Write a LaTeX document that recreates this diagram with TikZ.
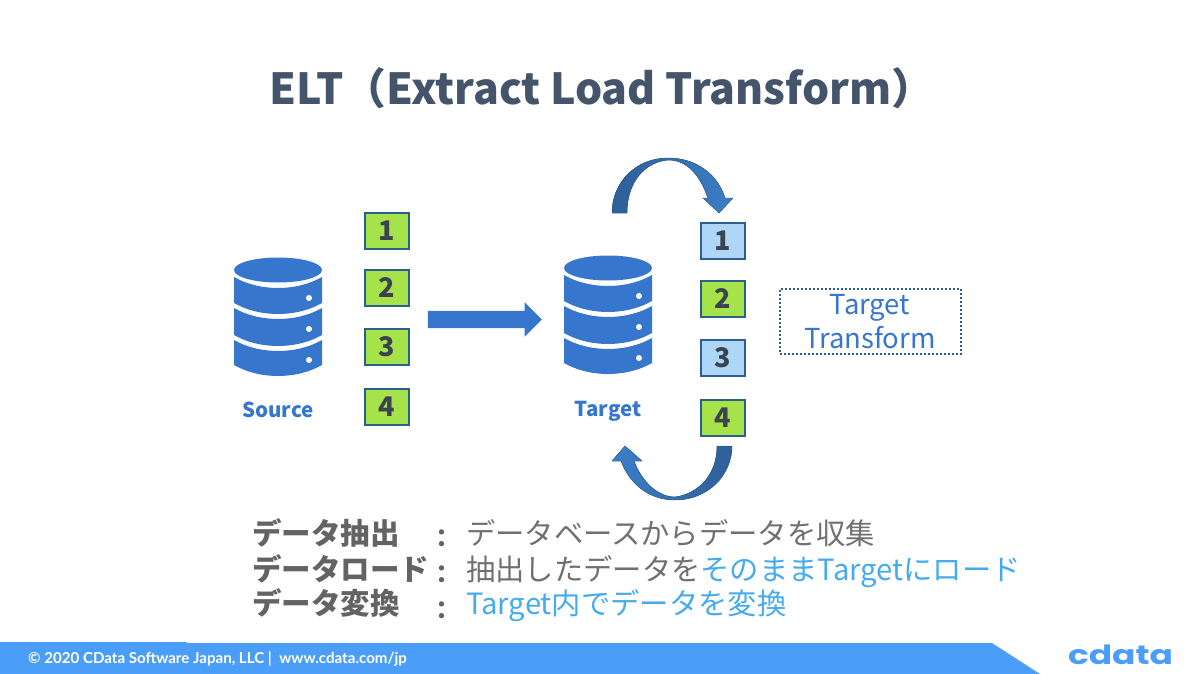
\documentclass[tikz,border=0pt]{standalone}
\usepackage{fontspec}
\setmainfont{Noto Sans CJK JP}
\newfontfamily\footfont{Lato}
\newfontfamily\logofont{Poppins}
\usetikzlibrary{positioning, shapes.arrows}
\definecolor{titlegray}{HTML}{44546A}
\definecolor{headgray}{HTML}{636363}
\definecolor{textgray}{HTML}{707070}
\definecolor{dbblue}{HTML}{3676CC}
\definecolor{boxedge}{HTML}{2B5F8E}
\definecolor{boxgreen}{HTML}{A6E34B}
\definecolor{boxblue}{HTML}{ADD6F7}
\definecolor{digitgray}{HTML}{3B4350}
\definecolor{arcdark}{HTML}{2E5F98}
\definecolor{arclight}{HTML}{3C7EC8}
\definecolor{hilite}{HTML}{45ABEC}
\definecolor{footblue}{HTML}{4B9EF8}
\tikzset{
    numbox/.style={draw=boxedge, line width=2pt, minimum width=44pt, minimum height=36pt,
        inner sep=0pt, outer sep=0pt, font=\fontsize{27}{27}\selectfont\bfseries, text=digitgray},
    loaded/.style={numbox, fill=boxgreen},
    raw/.style={numbox, fill=boxblue},
    dblabel/.style={anchor=base, inner sep=0pt, text=dbblue, font=\fontsize{20.5}{20.5}\selectfont\bfseries},
    note/.style={anchor=base west, inner sep=0pt, text=textgray, font=\fontsize{29.3}{29.3}\selectfont},
    notehead/.style={note, text=headgray, font=\fontsize{29.5}{29.5}\selectfont\bfseries},
    notecolon/.style={notehead, font=\fontsize{25}{25}\selectfont\bfseries},
    bigarrow/.style={single arrow, fill=dbblue, minimum width=34pt, minimum height=114pt,
        single arrow head extend=8.5pt, inner xsep=0pt, inner ysep=8.5pt, outer sep=0pt},
    % one band of the cylinder, top edge then bottom edge
    dbicon/.pic={
        \fill[dbblue] (0,12) ellipse [x radius=44, y radius=12.5];
        \foreach \ya/\yb in {19/45, 50/77, 82/107} {
            \fill[dbblue] (-44,\ya) .. controls (-30,\ya+8) and (-14,\ya+11) .. (0,\ya+11)
                .. controls (14,\ya+11) and (30,\ya+8) .. (44,\ya)
                -- (44,\yb) .. controls (30,\yb+8) and (14,\yb+11) .. (0,\yb+11)
                .. controls (-14,\yb+11) and (-30,\yb+8) .. (-44,\yb) -- cycle;
        }
        \foreach \yd in {40, 71, 102} \fill[white] (31,\yd) circle (3);
    },
}

\begin{document}
\begin{tikzpicture}[x=1pt, y=-1pt]
    \useasboundingbox (0,0) rectangle (1197,674);

    % heading
    \node[text=titlegray, font=\fontsize{42.8}{42.8}\selectfont\bfseries] (title) at (602,88) {ELT（Extract Load Transform）};

    % source side
    \pic at (278,258) {dbicon};
    \node[dblabel] (source) at (278,417) {Source};
    \node[loaded] at (386.5,230.5)       (s1) {1};
    \node[loaded, below=21pt of s1]      (s2) {2};
    \node[loaded, below=23pt of s2]      (s3) {3};
    \node[loaded, below=24pt of s3]      (s4) {4};

    \node[bigarrow] (flow) at (480.5,319.5) {};

    % target side
    \pic at (608,256) {dbicon};
    \node[dblabel] (target) at (608,416.5) {Target};
    \node[raw] at (722.5,241)            (t1) {1};
    \node[loaded, below=22pt of t1]      (t2) {2};
    \node[raw, below=23pt of t2]         (t3) {3};
    \node[loaded, below=24pt of t3]      (t4) {4};

    % transform loop
    \fill[draw=arcdark, line width=0.4pt, left color=arcdark, right color=arclight]
        (612,213) .. controls (612,182) and (636,158) .. (668,158)
        .. controls (697,158) and (718,175) .. (725,198) -- (733,198) -- (719,213) -- (703,198) -- (708,198)
        .. controls (700,176) and (688,160) .. (668,160)
        .. controls (645,162) and (627,182) .. (627,213) -- cycle;
    \fill[draw=arcdark, line width=0.4pt, left color=arclight, right color=arcdark]
        (732,446) .. controls (732,475) and (708,500) .. (675,500)
        .. controls (650,500) and (630,485) .. (621,461) -- (612,461) -- (625,446) -- (642,461) -- (634,461)
        .. controls (642,482) and (658,497) .. (675,497)
        .. controls (698,494) and (717,475) .. (717,446) -- cycle;

    \node[draw=boxedge, dotted, line width=2pt, minimum width=181pt, minimum height=65pt,
        inner sep=0pt, align=center, text=dbblue, font=\fontsize{27.5}{34.5}\selectfont]
        (transform) at (870,321.5) {Target\\Transform};

    % notes
    \node[notehead] (h1) at (252,544) {データ抽出};
    \node[notehead] (h2) at (252,580) {データロード};
    \node[notehead] (h3) at (252,614) {データ変換};
    \node[notecolon] (c1) at (429.5,547) {：};
    \node[notecolon] (c2) at (429.5,583) {：};
    \node[notecolon] (c3) at (429.5,619) {：};
    \node[note] (n1) at (466,544) {データベースからデータを収集};
    \node[note] (n2) at (466,580) {抽出したデータを\textcolor{hilite}{そのままTargetにロード}};
    \node[note, text=hilite] (n3) at (466,614) {Target内でデータを変換};

    % footer
    \fill[footblue] (0,642) -- (187,642) -- (187,643) -- (992,643) -- (1040,674) -- (0,674) -- cycle;
    \node[anchor=west, inner sep=0pt, text=white, font=\footfont\fontsize{15.1}{15.1}\selectfont\bfseries]
        (foot) at (28,659) {© 2020 CData Software Japan, LLC |\ \ www.cdata.com/jp};
    \node[anchor=base, xscale=1.3, text=footblue, inner sep=0pt, font=\logofont\fontsize{26.5}{26.5}\selectfont\bfseries] (logo) at (1120.5,664) {cdata};
\end{tikzpicture}
\end{document}
